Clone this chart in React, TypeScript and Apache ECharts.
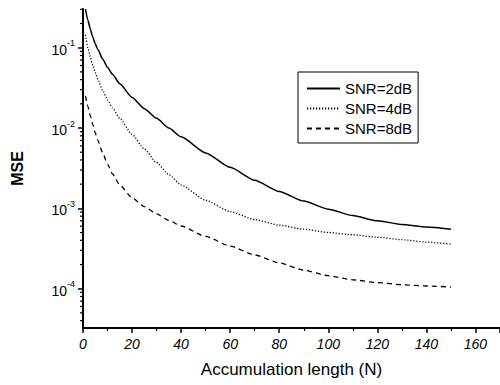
import React, { useEffect, useRef } from 'react';
import * as echarts from 'echarts';

const nValues = [1, 2, 3, 4, 5, 6, 8, 10, 12, 15, 20, 25, 30, 35, 40, 50, 60, 70, 80, 90, 100, 110, 120, 130, 140, 150];
const mse2dB = [0.302, 0.219, 0.17, 0.135, 0.112, 0.0955, 0.0724, 0.0569, 0.0468, 0.0355, 0.024, 0.0174, 0.0132, 0.01, 0.00776, 0.0049, 0.00324, 0.00224, 0.00162, 0.00123, 0.000977, 0.000813, 0.0007, 0.00063, 0.000586, 0.00055];
const mse4dB = [0.1445, 0.1, 0.0759, 0.0603, 0.049, 0.0407, 0.0295, 0.0224, 0.0178, 0.0132, 0.00832, 0.0055, 0.00372, 0.00263, 0.00195, 0.00126, 0.000912, 0.000724, 0.000617, 0.00055, 0.000501, 0.000468, 0.000437, 0.000407, 0.00038, 0.000359];
const mse8dB = [0.0251, 0.0186, 0.0141, 0.011, 0.0087, 0.00708, 0.0049, 0.00355, 0.00269, 0.00195, 0.00135, 0.00105, 0.000851, 0.000708, 0.000603, 0.000447, 0.000339, 0.000263, 0.000209, 0.00017, 0.000145, 0.000129, 0.000119, 0.000112, 0.000108, 0.000105];
const seriesNames = ['SNR=2dB', 'SNR=4dB', 'SNR=8dB'];
const yMinorTicks = [
  4e-5, 5e-5, 6e-5, 7e-5, 8e-5, 9e-5,
  2e-4, 3e-4, 4e-4, 5e-4, 6e-4, 7e-4, 8e-4, 9e-4,
  2e-3, 3e-3, 4e-3, 5e-3, 6e-3, 7e-3, 8e-3, 9e-3,
  2e-2, 3e-2, 4e-2, 5e-2, 6e-2, 7e-2, 8e-2, 9e-2,
  0.2, 0.3,
];

const FONT = 'Liberation Sans, Arial, Helvetica, sans-serif';

function pairs(vals: number[]) {
  return nValues.map((n, i) => [n, vals[i]]);
}

export default function App() {
  const ref = useRef<HTMLDivElement>(null);
  useEffect(() => {
    if (!ref.current) return;
    const chart = echarts.init(ref.current, null, { renderer: 'svg' });
    const lineCommon = { type: 'line', showSymbol: false, symbol: 'none', smooth: 0.2, smoothMonotone: 'x', z: 3, itemStyle: { color: '#000' } };
    chart.setOption({
      animation: false,
      backgroundColor: '#fff',
      grid: { left: 83, top: 9, width: 419, height: 319, containLabel: false },
      legend: {
        orient: 'vertical',
        left: 298,
        top: 72,
        data: seriesNames,
        itemWidth: 33,
        itemHeight: 14,
        itemGap: 5,
        padding: [9, 6, 7, 8],
        borderColor: '#000',
        borderWidth: 1,
        itemStyle: { opacity: 0 },
        textStyle: { fontFamily: FONT, fontSize: 15, color: '#000' },
      },
      xAxis: {
        type: 'value',
        min: 0,
        max: 170,
        interval: 20,
        name: 'Accumulation length (N)',
        nameLocation: 'middle',
        nameGap: 33,
        nameTextStyle: { fontFamily: FONT, fontSize: 17, color: '#000' },
        axisLine: { show: true, onZero: false, lineStyle: { color: '#000', width: 2 } },
        axisTick: { show: true, inside: false, length: 5, lineStyle: { color: '#000', width: 1.5 } },
        minorTick: { show: true, splitNumber: 2, length: 3, lineStyle: { color: '#000', width: 1.2 } },
        axisLabel: {
          margin: 9,
          fontFamily: FONT,
          fontSize: 14,
          fontStyle: 'italic',
          color: '#000',
          showMaxLabel: false,
          formatter: (v: number) => (v <= 160 ? String(v) : ''),
        },
        splitLine: { show: false },
      },
      yAxis: {
        type: 'log',
        logBase: 10,
        min: 3.24e-5,
        max: 0.303,
        name: 'MSE',
        nameLocation: 'middle',
        nameGap: 58,
        nameTextStyle: { fontFamily: FONT, fontSize: 16, fontWeight: 'bold', color: '#000' },
        axisLine: { show: true, onZero: false, lineStyle: { color: '#000', width: 2 } },
        axisTick: { show: true, inside: false, length: 5, lineStyle: { color: '#000', width: 1.5 } },
        axisLabel: {
          margin: 8,
          color: '#000',
          fontFamily: FONT,
          showMinLabel: false,
          showMaxLabel: false,
          formatter: (v: number) => {
            const e = Math.log10(v);
            const r = Math.round(e);
            if (Math.abs(e - r) > 1e-6) return '';
            return `{a|10}{b|${r}}`;
          },
          rich: {
            a: { fontFamily: FONT, fontSize: 14, color: '#000', lineHeight: 18, verticalAlign: 'bottom' },
            b: { fontFamily: FONT, fontSize: 9, color: '#000', lineHeight: 18, verticalAlign: 'top' },
          },
        },
        splitLine: { show: false },
      },
      series: [
        { ...lineCommon, name: seriesNames[0], data: pairs(mse2dB), lineStyle: { color: '#000', width: 1.5, type: 'solid' } },
        { ...lineCommon, name: seriesNames[1], data: pairs(mse4dB), lineStyle: { color: '#000', width: 1.3, type: [1.2, 1.8] } },
        { ...lineCommon, name: seriesNames[2], data: pairs(mse8dB), lineStyle: { color: '#000', width: 1.3, type: [5, 4] } },
        {
          type: 'custom',
          name: 'minorY',
          silent: true,
          clip: false,
          data: yMinorTicks.map((v) => [0, v]),
          encode: { x: 0, y: 1 },
          renderItem: (params: any, api: any) => {
            const p = api.coord([0, api.value(1)]);
            return {
              type: 'line',
              shape: { x1: p[0] - 3, y1: p[1], x2: p[0], y2: p[1] },
              style: { stroke: '#000', lineWidth: 1.2 },
            };
          },
        },
      ],
    });
    return () => chart.dispose();
  }, []);
  return <div ref={ref} style={{ position: 'fixed', left: 0, top: 0, width: 500, height: 385, background: '#fff' }} />;
}
